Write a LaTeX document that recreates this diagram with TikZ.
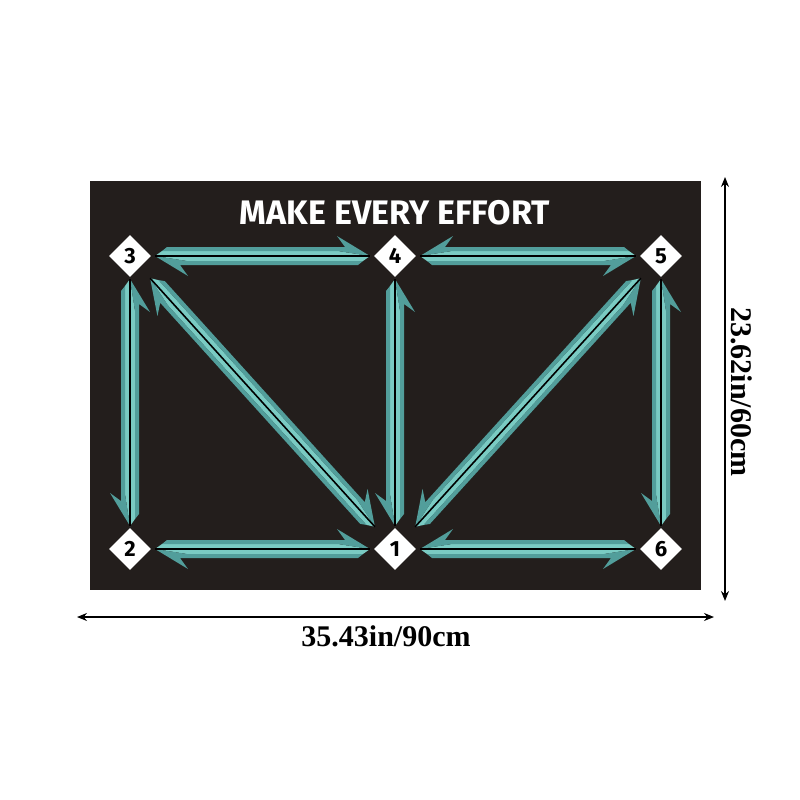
\documentclass[tikz,border=0pt]{standalone}
\usepackage{fontspec}
\usepackage{xcolor}
\usepackage{tikz}
\usetikzlibrary{arrows.meta,calc,shapes.geometric}

\newfontfamily\titlefont{Fira Sans}
\newfontfamily\dimfont{Liberation Serif}
\definecolor{matbg}{RGB}{35,30,28}
\definecolor{teallight}{RGB}{122,203,195}
\definecolor{tealdark}{RGB}{82,158,155}

% one half: beside #1->#2 (side given by angle #3), tip at #2
\newcommand{\halfarrow}[3]{%
    \fill[teallight] (#1) -- (#2) -- ($(#2)!32pt!(#1)!5pt!#3:(#1)$) -- ($(#1)!7pt!(#2)!5pt!#3:(#1)$) -- cycle;
    \fill[tealdark] ($(#1)!7pt!(#2)!5pt!#3:(#1)$) -- ($(#2)!32pt!(#1)!5pt!#3:(#1)$) -- (#2)
        -- ($(#2)!33pt!(#1)!20pt!#3:(#1)$) -- ($(#2)!25pt!(#1)!9pt!#3:(#1)$)
        -- ($(#1)!12pt!(#2)!9pt!#3:(#1)$) -- cycle;
}
\newcommand{\dualarrow}[4]{%
    \coordinate (p) at ($(#1)!#3!(#2)$);
    \coordinate (q) at ($(#2)!#3!(#1)$);
    \halfarrow{p}{q}{#4}
    \halfarrow{q}{p}{#4}
    \draw[line width=1.6pt, black] (p) -- (q);
}

\begin{document}
\begin{tikzpicture}[x=1pt, y=-1pt]
\useasboundingbox (0,0) rectangle (800,800);
\fill[white] (0,0) rectangle (800,800);
\fill[matbg] (90,181) rectangle (701,590);
\node[white, font=\titlefont\bfseries\fontsize{34}{40}\selectfont] (title) at (395,213) {MAKE EVERY EFFORT};
\begin{scope}[every node/.style={diamond,fill=white,minimum width=42pt,minimum height=42pt,inner sep=0pt,font=\titlefont\bfseries\fontsize{22}{24}\selectfont}]
    \node (3) at (130,256) {3};
    \node (4) at (395,256) {4};
    \node (5) at (661,256) {5};
    \node (2) at (130,549) {2};
    \node (1) at (395,549) {1};
    \node (6) at (661,549) {6};
\end{scope}
% left-hand pairs
\dualarrow{4}{3}{25pt}{-90}
\dualarrow{1}{2}{25pt}{-90}
\dualarrow{1}{3}{30pt}{-90}
% right-hand pairs
\dualarrow{4}{5}{25pt}{90}
\dualarrow{1}{6}{25pt}{90}
\dualarrow{3}{2}{23pt}{90}
\dualarrow{4}{1}{23pt}{90}
\dualarrow{5}{6}{23pt}{90}
\dualarrow{5}{1}{30pt}{90}
\begin{scope}[>={Stealth[length=10pt,width=8pt]}, line width=1.3pt, every node/.style={font=\dimfont\bfseries\fontsize{30}{34}\selectfont}]
    \coordinate (wl) at (77,617);
    \coordinate (wr) at (714,617);
    \coordinate (ht) at (725,177);
    \coordinate (hb) at (725,601);
    \draw [<->] (wl) -- (wr);
    \draw [<->] (ht) -- (hb);
    \node (width) at (386,636) {35.43in/90cm};
    \node[rotate=-90] (height) at (742,392) {23.62in/60cm};
\end{scope}
\end{tikzpicture}
\end{document}
